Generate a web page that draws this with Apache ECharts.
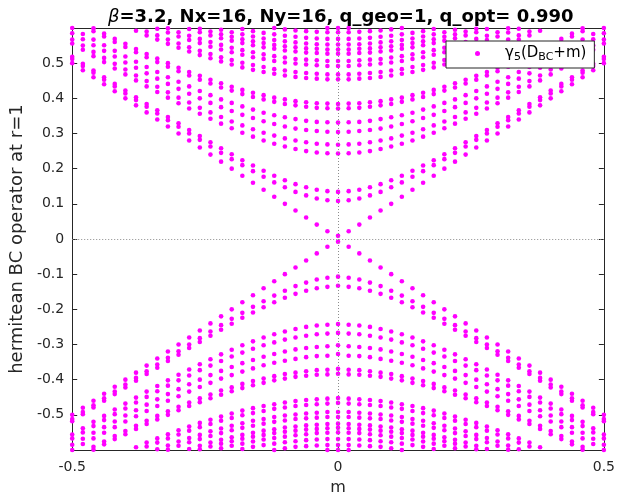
<!DOCTYPE html>
<html><head><meta charset="utf-8">
<script src="https://cdn.jsdelivr.net/npm/echarts@6/dist/echarts.min.js"></script>
<style>html,body{margin:0;padding:0;background:#fff}#c{width:618px;height:501px}</style>
</head><body><div id="c"></div>
<script>
const _ = null;
// m values (x categories of the spectral flow)
const mValues = [-0.5,-0.48,-0.46,-0.44,-0.42,-0.4,-0.38,-0.36,-0.34,-0.32,-0.3,-0.28,-0.26,-0.24,-0.22,-0.2,-0.18,-0.16,-0.14,-0.12,-0.1,-0.08,-0.06,-0.04,-0.02,0,0.02,0.04,0.06,0.08,0.1,0.12,0.14,0.16,0.18,0.2,0.22,0.24,0.26,0.28,0.3,0.32,0.34,0.36,0.38,0.4,0.42,0.44,0.46,0.48,0.5];
// positive eigenvalue branches (one value per m, null = outside plot)
const up0 = [.5,.48,.46,.44,.42,.4,.38,.36,.34,.32,.3,.28,.26,.24,.22,.2,.18,.16,.14,.12,.1,.081,.061,.041,.022,.009,.022,.041,.061,.081,.1,.12,.14,.16,.18,.2,.22,.24,.26,.28,.3,.32,.34,.36,.38,.4,.42,.44,.46,.48,.5];
const up1 = [.512,.492,.473,.453,.434,.414,.395,.376,.357,.338,.319,.3,.282,.263,.245,.227,.21,.193,.177,.161,.147,.134,.124,.115,.11,.108,.11,.115,.124,.134,.147,.161,.177,.193,.21,.227,.245,.263,.282,.3,.319,.338,.357,.376,.395,.414,.434,.453,.473,.492,.512];
const up2 = [.518,.498,.479,.46,.441,.422,.403,.384,.366,.347,.329,.31,.293,.275,.258,.241,.224,.209,.194,.18,.167,.156,.147,.14,.136,.134,.136,.14,.147,.156,.167,.18,.194,.209,.224,.241,.258,.275,.293,.31,.329,.347,.366,.384,.403,.422,.441,.46,.479,.498,.518];
const up3 = [.556,.538,.52,.503,.485,.468,.451,.434,.418,.402,.386,.371,.356,.342,.328,.315,.302,.291,.28,.271,.263,.256,.25,.246,.244,.243,.244,.246,.25,.256,.263,.271,.28,.291,.302,.315,.328,.342,.356,.371,.386,.402,.418,.434,.451,.468,.485,.503,.52,.538,.556];
const up4 = [.567,.55,.532,.515,.498,.482,.465,.449,.433,.417,.402,.388,.373,.36,.347,.334,.323,.312,.302,.294,.286,.28,.275,.271,.269,.268,.269,.271,.275,.28,.286,.294,.302,.312,.323,.334,.347,.36,.373,.388,.402,.417,.433,.449,.465,.482,.498,.515,.532,.55,.567];
const up5 = [.585,.568,.551,.535,.519,.502,.487,.471,.456,.441,.427,.413,.4,.387,.375,.364,.353,.344,.335,.327,.32,.314,.31,.307,.305,.304,.305,.307,.31,.314,.32,.327,.335,.344,.353,.364,.375,.387,.4,.413,.427,.441,.456,.471,.487,.502,.519,.535,.551,.568,.585];
const up6 = [.6,.583,.567,.551,.535,.519,.504,.489,.475,.46,.447,.434,.421,.409,.397,.387,.377,.368,.359,.352,.346,.341,.336,.333,.332,.331,.332,.333,.336,.341,.346,.352,.359,.368,.377,.387,.397,.409,.421,.434,.447,.46,.475,.489,.504,.519,.535,.551,.567,.583,.6];
const up7 = [_,_,.591,.576,.56,.546,.531,.517,.503,.49,.477,.465,.453,.442,.431,.422,.412,.404,.397,.39,.384,.38,.376,.373,.372,.371,.372,.373,.376,.38,.384,.39,.397,.404,.412,.422,.431,.442,.453,.465,.477,.49,.503,.517,.531,.546,.56,.576,.591,_,_];
const up8 = [_,_,.599,.584,.569,.555,.54,.526,.513,.5,.487,.475,.464,.453,.443,.433,.424,.416,.409,.402,.397,.392,.389,.386,.385,.384,.385,.386,.389,.392,.397,.402,.409,.416,.424,.433,.443,.453,.464,.475,.487,.5,.513,.526,.54,.555,.569,.584,.599,_,_];
const up9 = [_,_,_,_,_,_,.592,.579,.567,.555,.544,.533,.523,.514,.505,.496,.488,.481,.475,.47,.465,.461,.458,.456,.454,.454,.454,.456,.458,.461,.465,.47,.475,.481,.488,.496,.505,.514,.523,.533,.544,.555,.567,.579,.592,_,_,_,_,_,_];
const up10 = [_,_,_,_,_,_,_,.59,.579,.567,.556,.545,.535,.526,.517,.509,.501,.495,.489,.483,.479,.475,.472,.47,.468,.468,.468,.47,.472,.475,.479,.483,.489,.495,.501,.509,.517,.526,.535,.545,.556,.567,.579,.59,_,_,_,_,_,_,_];
const up11 = [_,_,_,_,_,_,_,_,.598,.587,.576,.566,.557,.547,.539,.531,.524,.517,.512,.506,.502,.499,.496,.494,.492,.492,.492,.494,.496,.499,.502,.506,.512,.517,.524,.531,.539,.547,.557,.566,.576,.587,.598,_,_,_,_,_,_,_,_];
const up12 = [_,_,_,_,_,_,_,_,_,.599,.588,.578,.569,.56,.552,.544,.537,.531,.525,.52,.516,.512,.51,.508,.506,.506,.506,.508,.51,.512,.516,.52,.525,.531,.537,.544,.552,.56,.569,.578,.588,.599,_,_,_,_,_,_,_,_,_];
const up13 = [_,_,_,_,_,_,_,_,_,_,_,.597,.588,.579,.571,.564,.557,.551,.545,.541,.536,.533,.53,.529,.527,.527,.527,.529,.53,.533,.536,.541,.545,.551,.557,.564,.571,.579,.588,.597,_,_,_,_,_,_,_,_,_,_,_];
const up14 = [_,_,_,_,_,_,_,_,_,_,_,_,.598,.59,.582,.575,.568,.562,.557,.552,.548,.545,.542,.541,.539,.539,.539,.541,.542,.545,.548,.552,.557,.562,.568,.575,.582,.59,.598,_,_,_,_,_,_,_,_,_,_,_,_];
const up15 = [_,_,_,_,_,_,_,_,_,_,_,_,_,_,.595,.588,.582,.576,.57,.566,.562,.559,.556,.554,.553,.553,.553,.554,.556,.559,.562,.566,.57,.576,.582,.588,.595,_,_,_,_,_,_,_,_,_,_,_,_,_,_];
const up16 = [_,_,_,_,_,_,_,_,_,_,_,_,_,_,_,_,.597,.591,.586,.582,.578,.575,.572,.57,.569,.569,.569,.57,.572,.575,.578,.582,.586,.591,.597,_,_,_,_,_,_,_,_,_,_,_,_,_,_,_,_];
const up17 = [_,_,_,_,_,_,_,_,_,_,_,_,_,_,_,_,_,_,_,.6,.596,.593,.591,.589,.588,.588,.588,.589,.591,.593,.596,.6,_,_,_,_,_,_,_,_,_,_,_,_,_,_,_,_,_,_,_];
const up18 = [_,_,_,_,_,_,_,_,_,_,_,_,_,_,_,_,_,_,_,_,_,_,_,_,.6,.6,.6,_,_,_,_,_,_,_,_,_,_,_,_,_,_,_,_,_,_,_,_,_,_,_,_];
// negative eigenvalue branches
const lo0 = [-.5,-.48,-.46,-.44,-.42,-.4,-.38,-.36,-.34,-.32,-.3,-.28,-.26,-.24,-.22,-.2,-.18,-.16,-.14,-.12,-.1,-.081,-.061,-.041,-.022,-.008,-.022,-.041,-.061,-.081,-.1,-.12,-.14,-.16,-.18,-.2,-.22,-.24,-.26,-.28,-.3,-.32,-.34,-.36,-.38,-.4,-.42,-.44,-.46,-.48,-.5];
const lo1 = [-.512,-.492,-.473,-.453,-.434,-.414,-.395,-.376,-.357,-.338,-.319,-.3,-.282,-.263,-.245,-.227,-.21,-.193,-.177,-.161,-.147,-.134,-.124,-.115,-.11,-.107,-.11,-.115,-.124,-.134,-.147,-.161,-.177,-.193,-.21,-.227,-.245,-.263,-.282,-.3,-.319,-.338,-.357,-.376,-.395,-.414,-.434,-.453,-.473,-.492,-.512];
const lo2 = [-.518,-.498,-.479,-.46,-.441,-.422,-.403,-.384,-.366,-.347,-.329,-.31,-.293,-.275,-.258,-.241,-.224,-.209,-.194,-.18,-.167,-.156,-.147,-.14,-.136,-.133,-.136,-.14,-.147,-.156,-.167,-.18,-.194,-.209,-.224,-.241,-.258,-.275,-.293,-.31,-.329,-.347,-.366,-.384,-.403,-.422,-.441,-.46,-.479,-.498,-.518];
const lo3 = [-.556,-.538,-.52,-.503,-.485,-.468,-.451,-.434,-.418,-.402,-.386,-.371,-.356,-.342,-.328,-.315,-.302,-.291,-.28,-.271,-.263,-.256,-.25,-.246,-.244,-.242,-.244,-.246,-.25,-.256,-.263,-.271,-.28,-.291,-.302,-.315,-.328,-.342,-.356,-.371,-.386,-.402,-.418,-.434,-.451,-.468,-.485,-.503,-.52,-.538,-.556];
const lo4 = [-.567,-.55,-.532,-.515,-.498,-.482,-.465,-.449,-.433,-.417,-.402,-.388,-.373,-.36,-.347,-.334,-.323,-.312,-.302,-.294,-.286,-.28,-.275,-.271,-.269,-.267,-.269,-.271,-.275,-.28,-.286,-.294,-.302,-.312,-.323,-.334,-.347,-.36,-.373,-.388,-.402,-.417,-.433,-.449,-.465,-.482,-.498,-.515,-.532,-.55,-.567];
const lo5 = [-.585,-.568,-.551,-.535,-.519,-.502,-.487,-.471,-.456,-.441,-.427,-.413,-.4,-.387,-.375,-.364,-.353,-.344,-.335,-.327,-.32,-.314,-.31,-.307,-.305,-.302,-.305,-.307,-.31,-.314,-.32,-.327,-.335,-.344,-.353,-.364,-.375,-.387,-.4,-.413,-.427,-.441,-.456,-.471,-.487,-.502,-.519,-.535,-.551,-.568,-.585];
const lo6 = [-.6,-.583,-.567,-.551,-.535,-.519,-.504,-.489,-.475,-.46,-.447,-.434,-.421,-.409,-.397,-.387,-.377,-.368,-.359,-.352,-.346,-.341,-.336,-.333,-.332,-.327,-.332,-.333,-.336,-.341,-.346,-.352,-.359,-.368,-.377,-.387,-.397,-.409,-.421,-.434,-.447,-.46,-.475,-.489,-.504,-.519,-.535,-.551,-.567,-.583,-.6];
const lo7 = [_,_,-.591,-.576,-.56,-.546,-.531,-.517,-.503,-.49,-.477,-.465,-.453,-.442,-.431,-.422,-.412,-.404,-.397,-.39,-.384,-.38,-.376,-.373,-.372,-.369,-.372,-.373,-.376,-.38,-.384,-.39,-.397,-.404,-.412,-.422,-.431,-.442,-.453,-.465,-.477,-.49,-.503,-.517,-.531,-.546,-.56,-.576,-.591,_,_];
const lo8 = [_,_,-.599,-.584,-.569,-.555,-.54,-.526,-.513,-.5,-.487,-.475,-.464,-.453,-.443,-.433,-.424,-.416,-.409,-.402,-.397,-.392,-.389,-.386,-.385,-.383,-.385,-.386,-.389,-.392,-.397,-.402,-.409,-.416,-.424,-.433,-.443,-.453,-.464,-.475,-.487,-.5,-.513,-.526,-.54,-.555,-.569,-.584,-.599,_,_];
const lo9 = [_,_,_,_,_,_,-.592,-.579,-.567,-.555,-.544,-.533,-.523,-.514,-.505,-.496,-.488,-.481,-.475,-.47,-.465,-.461,-.458,-.456,-.454,-.452,-.454,-.456,-.458,-.461,-.465,-.47,-.475,-.481,-.488,-.496,-.505,-.514,-.523,-.533,-.544,-.555,-.567,-.579,-.592,_,_,_,_,_,_];
const lo10 = [_,_,_,_,_,_,_,-.59,-.579,-.567,-.556,-.545,-.535,-.526,-.517,-.509,-.501,-.495,-.489,-.483,-.479,-.475,-.472,-.47,-.468,-.466,-.468,-.47,-.472,-.475,-.479,-.483,-.489,-.495,-.501,-.509,-.517,-.526,-.535,-.545,-.556,-.567,-.579,-.59,_,_,_,_,_,_,_];
const lo11 = [_,_,_,_,_,_,_,_,-.598,-.587,-.576,-.566,-.557,-.547,-.539,-.531,-.524,-.517,-.512,-.506,-.502,-.499,-.496,-.494,-.492,-.492,-.492,-.494,-.496,-.499,-.502,-.506,-.512,-.517,-.524,-.531,-.539,-.547,-.557,-.566,-.576,-.587,-.598,_,_,_,_,_,_,_,_];
const lo12 = [_,_,_,_,_,_,_,_,_,-.599,-.588,-.578,-.569,-.56,-.552,-.544,-.537,-.531,-.525,-.52,-.516,-.512,-.51,-.508,-.506,-.506,-.506,-.508,-.51,-.512,-.516,-.52,-.525,-.531,-.537,-.544,-.552,-.56,-.569,-.578,-.588,-.599,_,_,_,_,_,_,_,_,_];
const lo13 = [_,_,_,_,_,_,_,_,_,_,_,-.597,-.588,-.579,-.571,-.564,-.557,-.551,-.545,-.541,-.536,-.533,-.53,-.528,-.526,-.525,-.526,-.528,-.53,-.533,-.536,-.541,-.545,-.551,-.557,-.564,-.571,-.579,-.588,-.597,_,_,_,_,_,_,_,_,_,_,_];
const lo14 = [_,_,_,_,_,_,_,_,_,_,_,_,-.598,-.59,-.582,-.575,-.568,-.562,-.557,-.552,-.548,-.545,-.542,-.54,-.538,-.537,-.538,-.54,-.542,-.545,-.548,-.552,-.557,-.562,-.568,-.575,-.582,-.59,-.598,_,_,_,_,_,_,_,_,_,_,_,_];
const lo15 = [_,_,_,_,_,_,_,_,_,_,_,_,_,_,-.595,-.588,-.582,-.576,-.57,-.566,-.562,-.558,-.555,-.552,-.551,-.55,-.551,-.552,-.555,-.558,-.562,-.566,-.57,-.576,-.582,-.588,-.595,_,_,_,_,_,_,_,_,_,_,_,_,_,_];
const lo16 = [_,_,_,_,_,_,_,_,_,_,_,_,_,_,_,_,-.597,-.591,-.586,-.582,-.578,-.575,-.572,-.57,-.569,-.569,-.569,-.57,-.572,-.575,-.578,-.582,-.586,-.591,-.597,_,_,_,_,_,_,_,_,_,_,_,_,_,_,_,_];
const lo17 = [_,_,_,_,_,_,_,_,_,_,_,_,_,_,_,_,_,_,_,-.6,-.595,-.591,-.589,-.587,-.586,-.586,-.586,-.587,-.589,-.591,-.595,-.6,_,_,_,_,_,_,_,_,_,_,_,_,_,_,_,_,_,_,_];
const lo18 = [_,_,_,_,_,_,_,_,_,_,_,_,_,_,_,_,_,_,_,_,_,_,_,_,-.6,-.6,-.6,_,_,_,_,_,_,_,_,_,_,_,_,_,_,_,_,_,_,_,_,_,_,_,_];

const branches = [up0,up1,up2,up3,up4,up5,up6,up7,up8,up9,up10,up11,up12,up13,up14,up15,up16,up17,up18,
                  lo0,lo1,lo2,lo3,lo4,lo5,lo6,lo7,lo8,lo9,lo10,lo11,lo12,lo13,lo14,lo15,lo16,lo17,lo18];
branches.forEach((b, i) => { if (b.length !== mValues.length) throw new Error('branch ' + i + ' has length ' + b.length); });
const points = [];
branches.forEach(b => b.forEach((v, i) => { if (v !== null) points.push([mValues[i], v]); }));

const FONT = 'DejaVu Sans';
const AX = '#262626';
const chart = echarts.init(document.getElementById('c'), null, {renderer: 'canvas'});
chart.setOption({
  animation: false,
  backgroundColor: '#fff',
  title: {
    text: '{i|β}{b|=3.2, Nx=16, Ny=16, q_geo=1, q_opt= 0.990}',
    left: 103, top: 3,
    textStyle: { fontSize: 18, rich: {
      i: {fontFamily: FONT, fontStyle: 'italic', fontWeight: 'normal', fontSize: 18, color: '#000'},
      b: {fontFamily: FONT, fontWeight: 'bold', fontSize: 18, color: '#000'}
    }}
  },
  grid: {left: 71, right: 10, top: 28, bottom: 49, containLabel: false},
  legend: {
    data: [{name: 'H', icon: 'circle'}],
    left: 446, top: 41,
    backgroundColor: '#fff', borderColor: AX, borderWidth: 1, borderRadius: 0,
    padding: [5, 8, 5, 29],
    itemWidth: 5, itemHeight: 5, itemGap: 0, selectedMode: false,
    formatter: () => '{g| }{n|γ}{s|5}{n|(D}{s|BC}{n|+m)}',
    textStyle: { rich: {
      g: {width: 20, fontSize: 15},
      n: {fontFamily: FONT, fontSize: 15, color: '#000', lineHeight: 19},
      s: {fontFamily: FONT, fontSize: 11, color: '#000', lineHeight: 13, verticalAlign: 'bottom'}
    }}
  },
  xAxis: [{
    type: 'value', min: -0.5, max: 0.5, interval: 0.5, position: 'bottom',
    axisLine: {show: true, onZero: false, lineStyle: {color: AX, width: 1}},
    axisTick: {show: true, inside: true, length: 5, lineStyle: {color: AX}},
    axisLabel: {color: AX, fontFamily: FONT, fontSize: 14, margin: 10,
      formatter: v => (Math.abs(v) < 1e-9 ? '0' : String(v))},
    splitLine: {show: false},
    name: 'm', nameLocation: 'middle', nameGap: 30,
    nameTextStyle: {fontFamily: FONT, fontSize: 16, color: AX}
  }, {
    type: 'value', min: -0.5, max: 0.5, interval: 0.5, position: 'top',
    axisLine: {show: true, onZero: false, lineStyle: {color: AX, width: 1}},
    axisTick: {show: true, inside: true, length: 5, lineStyle: {color: AX}},
    axisLabel: {show: false}, splitLine: {show: false}
  }],
  yAxis: [{
    type: 'value', min: -0.6, max: 0.6, interval: 0.1, position: 'left',
    axisLine: {show: true, onZero: false, lineStyle: {color: AX, width: 1}},
    axisTick: {show: true, inside: true, length: 5, lineStyle: {color: AX}},
    axisLabel: {color: AX, fontFamily: FONT, fontSize: 14, margin: 8,
      formatter: v => { if (Math.abs(v) > 0.55) return ''; if (Math.abs(v) < 1e-9) return '0'; return v.toFixed(1); }},
    splitLine: {show: false},
    name: 'hermitean BC operator at r=1', nameLocation: 'middle', nameGap: 42,
    nameTextStyle: {fontFamily: FONT, fontSize: 18, color: AX}
  }, {
    type: 'value', min: -0.6, max: 0.6, interval: 0.1, position: 'right',
    axisLine: {show: true, onZero: false, lineStyle: {color: AX, width: 1}},
    axisTick: {show: true, inside: true, length: 5, lineStyle: {color: AX}},
    axisLabel: {show: false}, splitLine: {show: false}
  }],
  series: [{
    name: 'H', type: 'scatter', xAxisIndex: 0, yAxisIndex: 0,
    symbol: 'circle', symbolSize: 4.6, clip: false,
    itemStyle: {color: '#ff00ff', opacity: 1},
    data: points,
    markLine: {
      silent: true, symbol: ['none', 'none'], label: {show: false},
      lineStyle: {color: '#8c8c8c', type: [1, 2], width: 1},
      data: [{xAxis: 0}, {yAxis: 0}]
    }
  }]
});
</script></body></html>
